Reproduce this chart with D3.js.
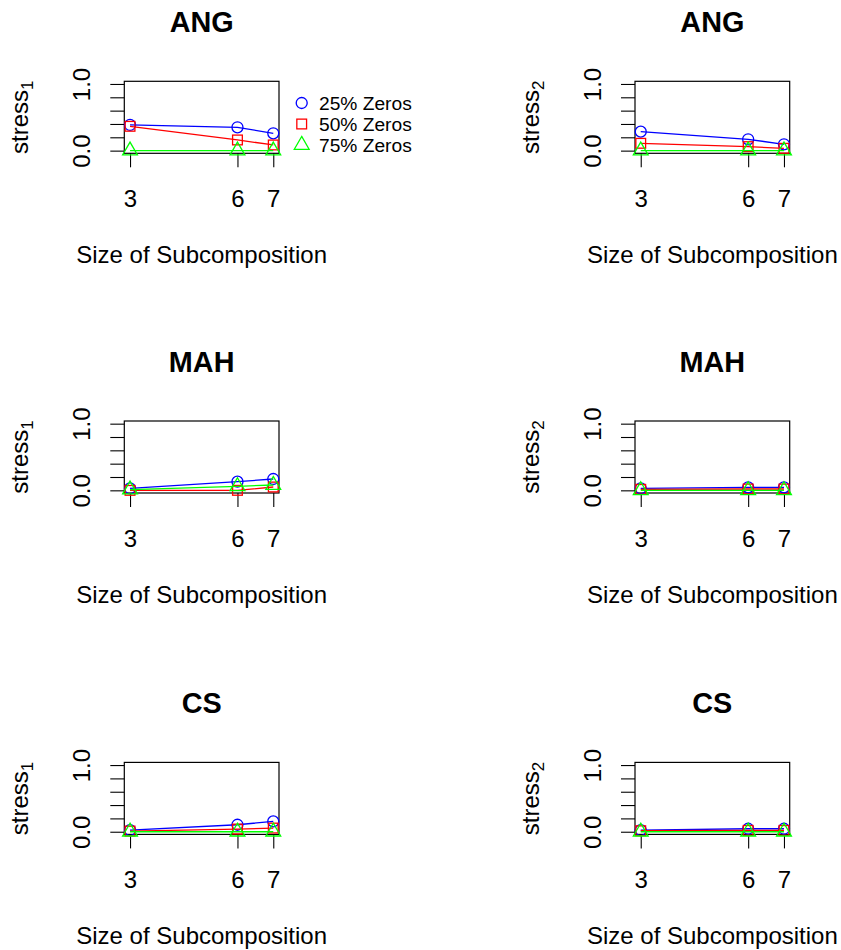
<!DOCTYPE html>
<html>
<head>
<meta charset="utf-8">
<script src="https://cdnjs.cloudflare.com/ajax/libs/d3/7.8.5/d3.min.js"></script>
<style>
body { margin: 0; background: #fff; }
svg { display: block; font-family: "Liberation Sans", Arial, Helvetica, sans-serif; }
</style>
</head>
<body>
<div id="chart"></div>
<script>
// subcomposition sizes on the x axis
let sizes = [3, 6, 7];
let yTicks = [0, 0.2, 0.4, 0.6, 0.8, 1.0];
let yTickLabels = ["0.0", "", "", "", "", "1.0"];

let metrics = ["ANG", "MAH", "CS"];
let stressIdx = ["1", "2"];
let seriesNames = ["25% Zeros", "50% Zeros", "75% Zeros"];
let seriesColors = ["#0000ff", "#ff0000", "#00ff00"];
let seriesShapes = ["circle", "square", "triangle"];

// rows: 25%, 50%, 75% zeros
let angStress1 = [[0.385, 0.35, 0.26], [0.365, 0.16, 0.085], [0.0, 0.0, 0.0]];
let angStress2 = [[0.285, 0.17, 0.095], [0.11, 0.06, 0.035], [0.0, 0.0, 0.0]];
let mahStress1 = [[0.03, 0.13, 0.17], [0.0, 0.0, 0.05], [0.01, 0.06, 0.08]];
let mahStress2 = [[0.03, 0.045, 0.045], [0.015, 0.02, 0.02], [0.0, 0.0, 0.0]];
let csStress1 = [[0.025, 0.105, 0.155], [0.01, 0.04, 0.055], [0.0, 0.0, 0.0]];
let csStress2 = [[0.025, 0.045, 0.045], [0.015, 0.02, 0.02], [0.0, 0.0, 0.0]];

let panelData = [[angStress1, angStress2], [mahStress1, mahStress2], [csStress1, csStress2]];

let width = 841, height = 950;
let colLeft = [124.3, 635], rowTop = [81.3, 421, 762.4];
let boxW = 154.7, boxH = 72;
let r0 = 5.5;

let svg = d3.select("#chart").append("svg")
.attr("width", width)
.attr("height", height)
.style("background", "#fff");

function symbol(g, shape, x, y, color) {
  let s;
  if (shape == "circle") {
    s = g.append("circle").attr("cx", x).attr("cy", y).attr("r", r0);
  } else if (shape == "square") {
    let h = r0 * 0.886;
    s = g.append("rect").attr("x", x - h).attr("y", y - h).attr("width", 2 * h).attr("height", 2 * h);
  } else {
    let t = r0 * 1.5551, xc = r0 * 1.3468, yc = r0 * 0.7776;
    s = g.append("path").attr("d", "M" + x + "," + (y - t) + "L" + (x + xc) + "," + (y + yc) + "L" + (x - xc) + "," + (y + yc) + "Z");
  }
  s.attr("fill", "none").attr("stroke", color).attr("stroke-width", 1.3);
}

metrics.forEach((m, row) => {
  stressIdx.forEach((si, col) => {
    let left = colLeft[col], top = rowTop[row];
    let g = svg.append("g").attr("transform", "translate(" + left + "," + top + ")");

    let x = d3.scaleLinear().domain([2.84, 7.16]).range([0, boxW]);
    let y = d3.scaleLinear().domain([-0.04, 1.04]).range([boxH, 0]);

    // axes
    let xAxis = g.append("g")
    .attr("transform", "translate(0," + boxH + ")")
    .call(d3.axisBottom(x).tickValues(sizes).tickFormat(d3.format("d")).tickSizeInner(14).tickSizeOuter(0));
    xAxis.select(".domain").remove();
    xAxis.selectAll("line").attr("stroke", "#000").attr("stroke-width", 1.1);
    xAxis.selectAll("text")
    .attr("y", 54).attr("dy", null)
    .attr("fill", "#000")
    .attr("font-size", 24);
    xAxis.attr("font-family", null).attr("font-size", null);

    let yAxis = g.append("g")
    .call(d3.axisLeft(y).tickValues(yTicks).tickFormat((d, i) => yTickLabels[i]).tickSizeInner(14).tickSizeOuter(0));
    yAxis.select(".domain").remove();
    yAxis.selectAll("line").attr("stroke", "#000").attr("stroke-width", 1.1);
    yAxis.selectAll("text")
    .attr("x", null).attr("dy", null)
    .attr("transform", "translate(-34,0) rotate(-90)")
    .attr("text-anchor", "middle")
    .attr("fill", "#000")
    .attr("font-size", 24);
    yAxis.attr("font-family", null).attr("font-size", null);

    // box
    g.append("rect")
    .attr("x", 0).attr("y", 0)
    .attr("width", boxW).attr("height", boxH)
    .attr("fill", "none")
    .attr("stroke", "#000")
    .attr("stroke-width", 1.2);

    // series
    let line = d3.line().x((d, i) => x(sizes[i])).y(d => y(d));
    panelData[row][col].forEach((vals, k) => {
      g.append("path")
      .attr("d", line(vals))
      .attr("fill", "none")
      .attr("stroke", seriesColors[k])
      .attr("stroke-width", 1.3);
      vals.forEach((v, i) => symbol(g, seriesShapes[k], x(sizes[i]), y(v), seriesColors[k]));
    });

    // title
    g.append("text")
    .attr("x", boxW / 2).attr("y", -49)
    .attr("text-anchor", "middle")
    .attr("font-weight", "bold")
    .attr("font-size", 28.8)
    .text(m);

    // x label
    g.append("text")
    .attr("x", boxW / 2).attr("y", boxH + 110)
    .attr("text-anchor", "middle")
    .attr("font-size", 24)
    .text("Size of Subcomposition");

    // y label with subscript
    let yl = g.append("text")
    .attr("transform", "translate(-96," + (boxH / 2) + ") rotate(-90)")
    .attr("text-anchor", "middle")
    .attr("font-size", 24);
    yl.append("tspan").text("stress");
    yl.append("tspan").attr("font-size", 17).attr("dy", 5).text(si);

    // legend only on first panel
    if (row == 0 && col == 0) {
      seriesNames.forEach((nm, k) => {
        let ly = 21.7 + 21 * k;
        symbol(g, seriesShapes[k], 177.4, ly, seriesColors[k]);
        g.append("text")
        .attr("x", 194.7).attr("y", ly + 6.8)
        .attr("font-size", 19.2)
        .text(nm);
      });
    }
  });
});
</script>
</body>
</html>
